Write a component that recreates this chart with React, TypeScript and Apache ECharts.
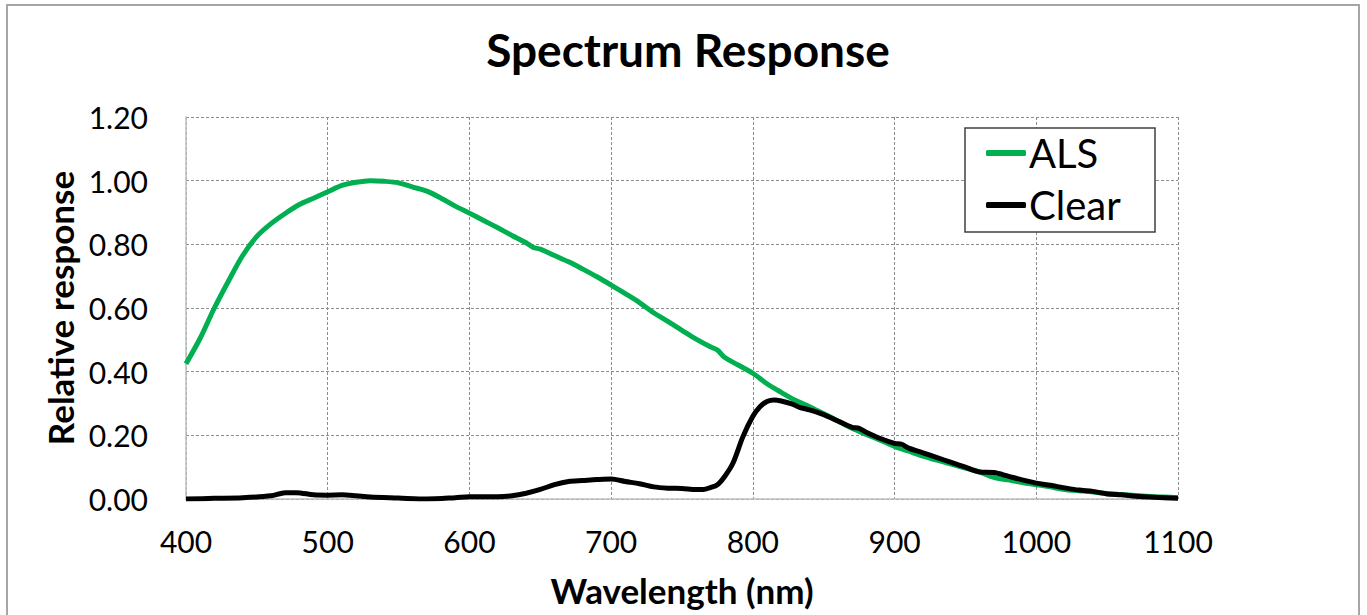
import React, { useEffect, useRef } from "react";
import * as echarts from "echarts";

const titleText = "Spectrum Response";
const xAxisName = "Wavelength (nm)";
const yAxisName = "Relative response";
const seriesNames = ["ALS", "Clear"];

const alsWavelengths = [
  400, 410, 420, 430, 440, 450, 460, 470, 480, 490, 500, 510, 520, 530, 540, 550, 560, 570, 580, 590,
  600, 610, 620, 630, 640, 645, 650, 660, 670, 680, 690, 700, 710, 720, 730, 740, 750, 760, 770, 775,
  780, 790, 800, 810, 820, 830, 840, 850, 860, 870, 880, 890, 900, 910, 920, 930, 940, 950, 960, 970,
  980, 990, 1000, 1010, 1020, 1030, 1040, 1050, 1060, 1070, 1080, 1090, 1100,
];
const alsValues = [
  0.425, 0.505, 0.6, 0.685, 0.765, 0.825, 0.865, 0.897, 0.925, 0.945, 0.965, 0.985, 0.995, 1.0, 0.998, 0.993, 0.98, 0.967, 0.945, 0.92,
  0.898, 0.875, 0.852, 0.828, 0.805, 0.79, 0.785, 0.765, 0.745, 0.722, 0.698, 0.672, 0.645, 0.617, 0.585, 0.558, 0.53, 0.502, 0.478, 0.468,
  0.445, 0.42, 0.395, 0.362, 0.335, 0.31, 0.29, 0.268, 0.245, 0.222, 0.203, 0.185, 0.165, 0.15, 0.135, 0.122, 0.11, 0.097, 0.085, 0.068,
  0.06, 0.052, 0.045, 0.038, 0.03, 0.026, 0.022, 0.017, 0.014, 0.011, 0.008, 0.006, 0.004,
];

const clearWavelengths = [
  400, 420, 440, 460, 470, 478, 490, 500, 510, 520, 530, 550, 570, 590, 600, 620, 630, 640, 650, 660,
  670, 680, 690, 700, 710, 720, 730, 740, 750, 760, 765, 770, 775, 780, 786, 793, 800, 805, 810, 815,
  820, 828, 833, 840, 850, 860, 870, 875, 880, 890, 900, 905, 910, 920, 930, 940, 950, 960, 970, 980,
  990, 1000, 1010, 1020, 1030, 1040, 1050, 1060, 1070, 1080, 1090, 1100,
];
const clearValues = [
  0.0, 0.002, 0.004, 0.01, 0.02, 0.02, 0.013, 0.012, 0.013, 0.01, 0.006, 0.003, 0.0, 0.004, 0.007, 0.007, 0.01, 0.018, 0.03, 0.045,
  0.055, 0.058, 0.061, 0.063, 0.055, 0.048, 0.038, 0.034, 0.033, 0.03, 0.03, 0.036, 0.045, 0.07, 0.113, 0.196, 0.26, 0.29, 0.306, 0.311,
  0.308, 0.298, 0.288, 0.28, 0.265, 0.245, 0.225, 0.222, 0.21, 0.19, 0.175, 0.172, 0.16, 0.145, 0.13, 0.115, 0.1, 0.085, 0.083, 0.072,
  0.06, 0.05, 0.043, 0.035, 0.028, 0.024, 0.016, 0.013, 0.009, 0.006, 0.004, 0.002,
];

const FONT = "Lato";

export default function App() {
  const ref = useRef<HTMLDivElement>(null);
  useEffect(() => {
    if (!ref.current) return;
    const chart = echarts.init(ref.current, undefined, { renderer: "svg" });
    const als = alsWavelengths.map((w, i) => [w, alsValues[i]]);
    const clear = clearWavelengths.map((w, i) => [w, clearValues[i]]);
    chart.setOption({
      animation: false,
      backgroundColor: "#ffffff",
      textStyle: { fontFamily: FONT },
      title: {
        text: titleText,
        left: 683,
        textAlign: "center",
        top: 21,
        textStyle: { fontFamily: FONT, fontWeight: "bold", fontSize: 46, color: "#000" },
      },
      grid: { left: 186, top: 117, width: 992, height: 382, containLabel: false },
      legend: {
        orient: "vertical",
        left: 986,
        top: 133,
        padding: 0,
        itemGap: 12,
        itemWidth: 40,
        itemHeight: 6,
        icon: "roundRect",
        z: 10,
        textStyle: { fontFamily: FONT, fontSize: 40, color: "#000", lineHeight: 40, padding: [0, 0, 0, -2] },
        data: seriesNames,
      },
      graphic: [
        {
          type: "rect",
          z: -10,
          silent: true,
          shape: { x: 7, y: 5, width: 1352, height: 640 },
          style: { fill: "none", stroke: "#a6a6a6", lineWidth: 2 },
        },
        {
          type: "rect",
          z: 5,
          silent: true,
          shape: { x: 965, y: 128, width: 190, height: 104 },
          style: { fill: "#ffffff", stroke: "#404040", lineWidth: 1.5 },
        },
      ],
      xAxis: {
        type: "value",
        min: 400,
        max: 1100,
        interval: 100,
        name: xAxisName,
        nameLocation: "middle",
        nameGap: 73,
        nameTextStyle: { fontFamily: FONT, fontWeight: "bold", fontSize: 35, color: "#000" },
        axisLine: { show: true, lineStyle: { color: "#bfbfbf", width: 1.5 } },
        axisTick: { show: false },
        axisLabel: { fontFamily: FONT, fontSize: 30, color: "#000", margin: 27, formatter: (v: number) => String(v) },
        splitLine: { show: true, lineStyle: { color: "#8c8c8c", type: [3, 2], width: 1 } },
      },
      yAxis: {
        type: "value",
        min: 0,
        max: 1.2,
        interval: 0.2,
        name: yAxisName,
        nameLocation: "middle",
        nameGap: 106,
        nameTextStyle: { fontFamily: FONT, fontWeight: "bold", fontSize: 35, color: "#000" },
        axisLine: { show: true, lineStyle: { color: "#bfbfbf", width: 1.5 } },
        axisTick: { show: false },
        axisLabel: {
          fontFamily: FONT,
          fontSize: 30,
          color: "#000",
          margin: 38,
          formatter: (v: number) => v.toFixed(2),
        },
        splitLine: { show: true, lineStyle: { color: "#8c8c8c", type: [3, 2], width: 1 } },
      },
      series: [
        {
          name: seriesNames[0],
          type: "line",
          data: als,
          smooth: 0.3,
          showSymbol: false,
          symbol: "none",
          color: "#00b050",
          lineStyle: { color: "#00b050", width: 5 },
          z: 2,
        },
        {
          name: seriesNames[1],
          type: "line",
          data: clear,
          smooth: 0.3,
          showSymbol: false,
          symbol: "none",
          color: "#000000",
          lineStyle: { color: "#000000", width: 5 },
          z: 3,
        },
      ],
    });
    return () => chart.dispose();
  }, []);
  return (
    <div
      ref={ref}
      style={{ position: "absolute", left: 0, top: 0, width: 1367, height: 615 }}
    />
  );
}
